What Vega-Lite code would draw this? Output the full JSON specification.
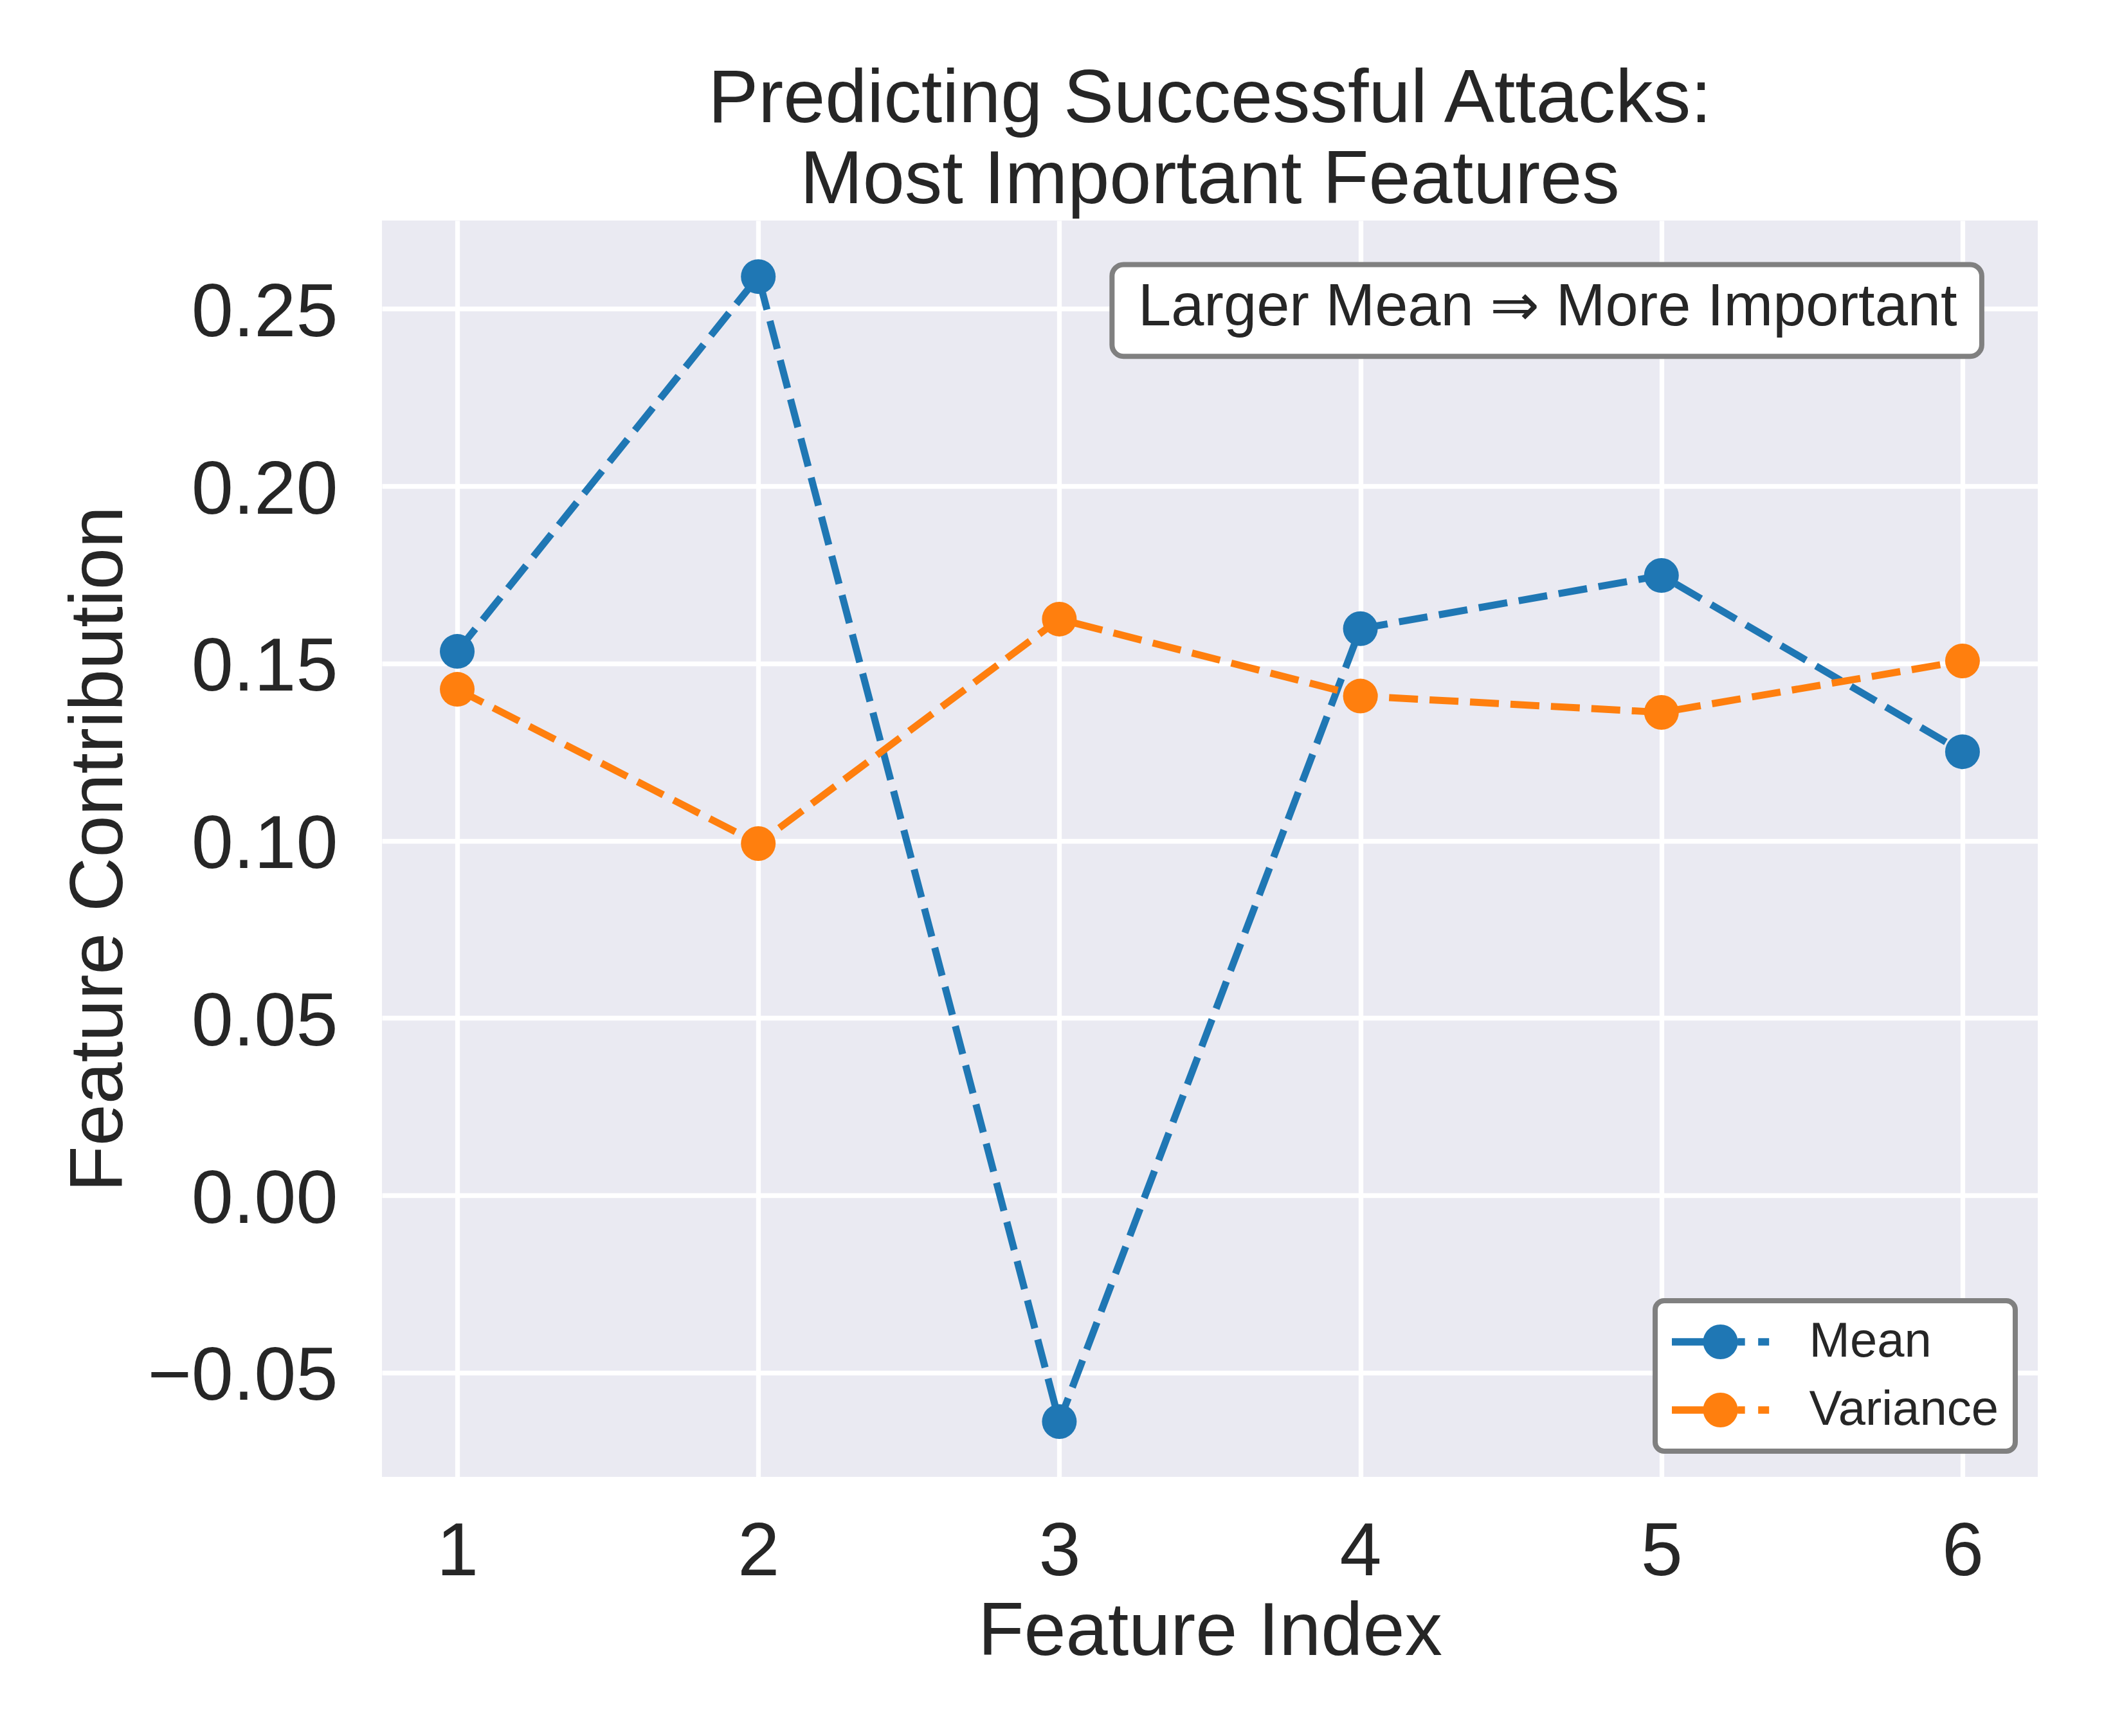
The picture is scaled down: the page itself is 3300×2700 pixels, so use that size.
{
  "$schema": "https://vega.github.io/schema/vega-lite/v6.json",
  "width": 2575,
  "height": 1954,
  "autosize": {"type": "none"},
  "padding": {"left": 594, "top": 343, "right": 131, "bottom": 403},
  "background": "white",
  "title": {
    "text": ["Predicting Successful Attacks:", "Most Important Features"],
    "font": "Liberation Sans",
    "fontSize": 117,
    "fontWeight": "normal",
    "color": "#262626",
    "lineHeight": 126,
    "anchor": "middle",
    "frame": "group",
    "baseline": "bottom",
    "offset": 1,
    "dy": 116
  },
  "config": {
    "view": {"fill": "#EAEAF2", "stroke": null},
    "axis": {
      "grid": true,
      "gridColor": "#FFFFFF",
      "gridWidth": 7.3,
      "domain": false,
      "ticks": false,
      "tickSize": 0,
      "labelFont": "Liberation Sans",
      "labelFontSize": 117,
      "labelColor": "#262626",
      "labelLimit": 0,
      "titleFont": "Liberation Sans",
      "titleFontSize": 117,
      "titleFontWeight": "normal",
      "titleColor": "#262626",
      "titleLimit": 0
    },
    "legend": {
      "padding": 26,
      "fillColor": "#FFFFFF",
      "strokeColor": "#808080",
      "strokeWidth": 8,
      "cornerRadius": 14,
      "symbolStrokeWidth": 0,
      "symbolOpacity": 1,
      "labelFont": "Liberation Sans",
      "labelFontSize": 76,
      "labelColor": "#262626",
      "labelLimit": 0
    }
  },
  "layer": [
    {
      "data": {"name": "series", "values": [
        {"feature": 1, "series": "Mean", "value": 0.1534},
        {"feature": 2, "series": "Mean", "value": 0.2591},
        {"feature": 3, "series": "Mean", "value": -0.0638},
        {"feature": 4, "series": "Mean", "value": 0.1598},
        {"feature": 5, "series": "Mean", "value": 0.1748},
        {"feature": 6, "series": "Mean", "value": 0.1251},
        {"feature": 1, "series": "Variance", "value": 0.1427},
        {"feature": 2, "series": "Variance", "value": 0.0992},
        {"feature": 3, "series": "Variance", "value": 0.1625},
        {"feature": 4, "series": "Variance", "value": 0.1408},
        {"feature": 5, "series": "Variance", "value": 0.1362},
        {"feature": 6, "series": "Variance", "value": 0.1507}
      ]},
      "layer": [
        {
          "mark": {"type": "line", "strokeWidth": 11, "strokeDash": [45, 18], "strokeCap": "butt"},
          "encoding": {
            "x": {"field": "feature", "type": "quantitative", "title": "Feature Index",
              "scale": {"domain": [0.75, 6.25], "nice": false, "zero": false},
              "axis": {"values": [1, 2, 3, 4, 5, 6], "format": "d", "labelBaseline": "alphabetic", "labelPadding": 152,
                "titleBaseline": "alphabetic", "titleY": 276}},
            "y": {"field": "value", "type": "quantitative", "title": "Feature Contribution",
              "scale": {"domain": [-0.0794, 0.2749], "nice": false, "zero": false},
              "axis": {"values": [-0.05, 0, 0.05, 0.1, 0.15, 0.2, 0.25], "format": ".2f", "labelPadding": 69,
                "labelBaseline": "middle", "labelOffset": 7,
                "titleAngle": 270, "titleBaseline": "alphabetic", "titleX": -405, "titleY": 977, "titleAlign": "center"}},
            "color": {"field": "series", "type": "nominal",
              "scale": {"domain": ["Mean", "Variance"], "range": ["#1f77b4", "#ff7f0e"]},
              "legend": {
                "title": null,
                "orient": "none",
                "legendX": 1980,
                "legendY": 1680,
                "symbolType": "M-2.8,-0.21H-0.9V0.21H-2.8Z M0.99,-0.21H1.41V0.21H0.99Z M2.17,-0.21H2.8V0.21H2.17Z M-1,0A1,1,0,1,1,1,0A1,1,0,1,1,-1,0Z",
                "symbolSize": 2916,
                "symbolOffset": 37.6,
                "labelOffset": 100,
                "rowPadding": 30,
                "encode": {"symbols": {"update": {"fill": {"scale": "color", "field": "value"}}}}
              }}
          }
        },
        {
          "mark": {"type": "point", "filled": true, "opacity": 1, "size": 2916, "strokeWidth": 0},
          "encoding": {
            "x": {"field": "feature", "type": "quantitative", "title": "Feature Index"},
            "y": {"field": "value", "type": "quantitative", "title": "Feature Contribution"},
            "color": {"field": "series", "type": "nominal"}
          }
        }
      ]
    },
    {
      "data": {"name": "note", "values": [
        {"x1": 3.175, "x2": 6.064, "y1": 0.2625, "y2": 0.2366, "xt": 4.622, "yt": 0.2453, "label": "Larger Mean ⇒ More Important"}
      ]},
      "layer": [
        {
          "mark": {"type": "rect", "fill": "#FFFFFF", "stroke": "#808080", "strokeWidth": 8, "cornerRadius": 18},
          "encoding": {
            "x": {"field": "x1", "type": "quantitative", "title": "Feature Index"},
            "x2": {"field": "x2"},
            "y": {"field": "y1", "type": "quantitative", "title": "Feature Contribution"},
            "y2": {"field": "y2"}
          }
        },
        {
          "mark": {"type": "text", "font": "Liberation Sans", "fontSize": 92, "color": "#262626", "align": "center", "baseline": "alphabetic"},
          "encoding": {
            "x": {"field": "xt", "type": "quantitative", "title": "Feature Index"},
            "y": {"field": "yt", "type": "quantitative", "title": "Feature Contribution"},
            "text": {"field": "label"}
          }
        }
      ]
    }
  ]
}
